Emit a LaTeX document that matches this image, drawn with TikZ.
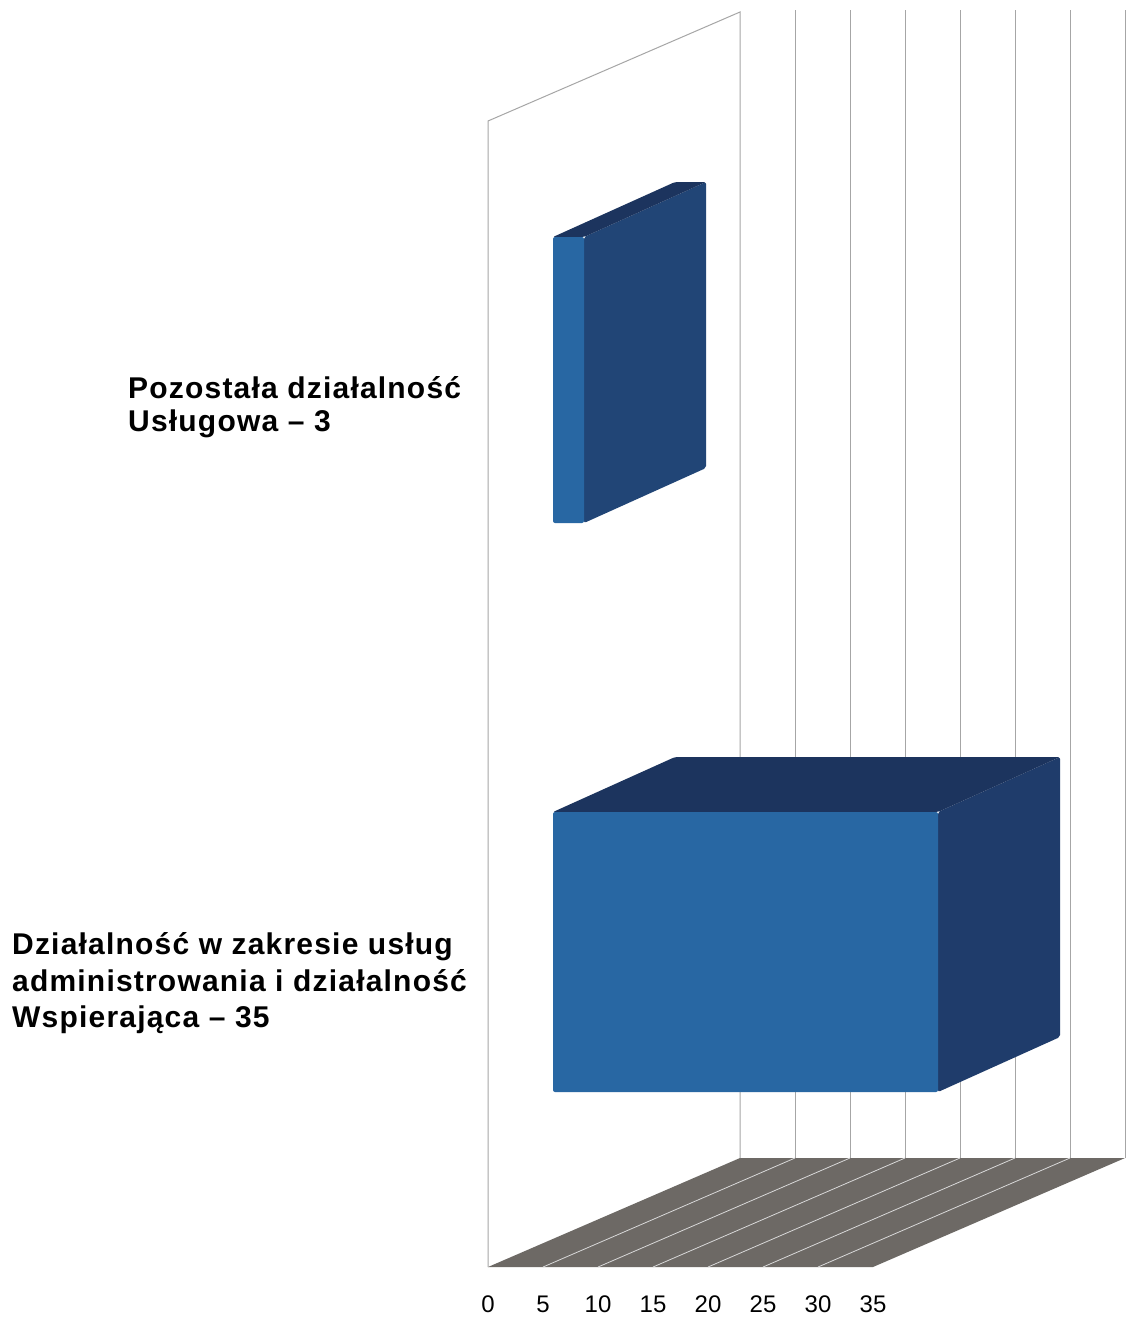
\documentclass[tikz,border=0pt]{standalone}
\usepackage{fontspec}
\setmainfont{Liberation Sans}
\newfontfamily\labelfont[LetterSpace=4]{Liberation Sans}
\usetikzlibrary{calc}
\definecolor{frontblue}{HTML}{2867A3}
\definecolor{sideblue}{HTML}{1F3C6B}
\definecolor{topblue}{HTML}{1C345E}
\definecolor{floorgray}{HTML}{6D6965}
\definecolor{gridgray}{HTML}{A6A6A6}
\tikzset{
	grid/.style={line width=1pt, color=gridgray},
	floorline/.style={line width=0.8pt, color=black!15},
	catlabel/.style={font=\labelfont\bfseries\fontsize{30}{33}\selectfont, anchor=base west, inner sep=0pt},
	ticklabel/.style={font=\fontsize{24}{26}\selectfont, anchor=base, inner sep=0pt}
}
% front face (x0,ytop,x1,ybot), face colours
\def\drawbar(#1,#2,#3,#4)[#5,#6,#7]{
	\fill[#6, rounded corners=2pt] (#3, #2) -- ++(122, -55) -- (#3+122, #4-55) -- (#3, #4) -- cycle;
	\fill[#7, rounded corners=2pt] (#1, #2) -- ++(122, -55) -- (#3+122, #2-55) -- (#3, #2) -- cycle;
	\fill[#5, rounded corners=2pt] (#1, #2) rectangle (#3, #4);
}

\begin{document}
\begin{tikzpicture}[x=1pt, y=-1pt]
			%%%%% START %%%%%
			\useasboundingbox (0, 0) rectangle (1129, 1318);
			\fill[white] (0, 0) rectangle (1129, 1318);
			
			% floor
			\fill[floorgray] (488, 1267) -- (740, 1158) -- (1125, 1158) -- (873, 1267) -- cycle;
			\draw[floorline] (543, 1267) -- (795, 1158);
			\draw[floorline] (598, 1267) -- (850, 1158);
			\draw[floorline] (653, 1267) -- (905, 1158);
			\draw[floorline] (708, 1267) -- (960, 1158);
			\draw[floorline] (763, 1267) -- (1015, 1158);
			\draw[floorline] (818, 1267) -- (1070, 1158);
			
			% walls
			\draw[grid] (488, 1267) -- (488, 121) -- (740, 12) -- (740, 1158);
			\draw[grid] (795, 10) -- (795, 1158);
			\draw[grid] (850, 10) -- (850, 1158);
			\draw[grid] (905, 10) -- (905, 1158);
			\draw[grid] (960, 10) -- (960, 1158);
			\draw[grid] (1015, 10) -- (1015, 1158);
			\draw[grid] (1070, 10) -- (1070, 1158);
			\draw[grid] (1125, 10) -- (1125, 1158);
			
			% bars
			\drawbar(553, 237, 584, 523)[frontblue, sideblue!80!frontblue, topblue]
			\drawbar(553, 812, 938, 1092)[frontblue, sideblue, topblue]
			
			% labels
			\node[catlabel] (pozostala) at (128, 398) {Pozostała działalność};
			\node[catlabel] (uslugowa) at (128, 431) {Usługowa – 3};
			\node[catlabel] (dzialalnosc) at (12, 954) {Działalność w zakresie usług};
			\node[catlabel] (administrowania) at (12, 991) {administrowania i działalność};
			\node[catlabel] (wspierajaca) at (12, 1027) {Wspierająca – 35};
			
			% axis
			\node[ticklabel] (tick0) at (488, 1312) {0};
			\node[ticklabel] (tick5) at (543, 1312) {5};
			\node[ticklabel] (tick10) at (598, 1312) {10};
			\node[ticklabel] (tick15) at (653, 1312) {15};
			\node[ticklabel] (tick20) at (708, 1312) {20};
			\node[ticklabel] (tick25) at (763, 1312) {25};
			\node[ticklabel] (tick30) at (818, 1312) {30};
			\node[ticklabel] (tick35) at (873, 1312) {35};
			%%%%% END %%%%%
\end{tikzpicture}
\end{document}
